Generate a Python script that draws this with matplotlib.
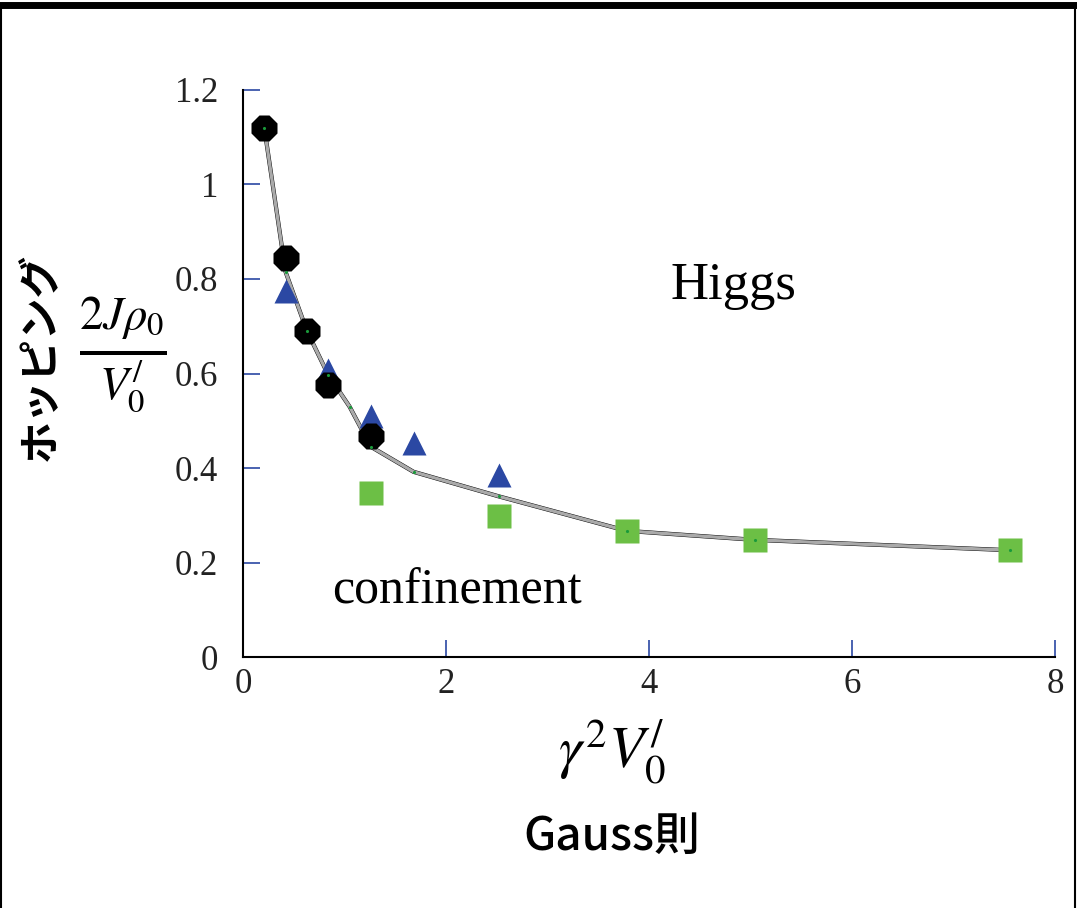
import matplotlib
matplotlib.use('Agg')
import matplotlib.pyplot as plt
import numpy as np

plt.rcParams['mathtext.fontset'] = 'stix'

# data
circ_x = [0.21, 0.42, 0.63, 0.84, 1.26]
circ_y = [1.12, 0.845, 0.69, 0.575, 0.468]
tri_x = [0.42, 0.84, 1.26, 1.68, 2.52]
tri_y = [0.775, 0.607, 0.51, 0.452, 0.385]
sq_x = [1.26, 2.52, 3.78, 5.04, 7.56]
sq_y = [0.347, 0.298, 0.267, 0.248, 0.226]
line_x = [0.21, 0.42, 0.63, 0.84, 1.05, 1.26, 1.68, 2.52, 3.78, 5.04, 7.56]
line_y = [1.12, 0.815, 0.69, 0.597, 0.53, 0.445, 0.392, 0.34, 0.267, 0.248, 0.226]
xticks = [0, 2, 4, 6, 8]
yticks = [0, 0.2, 0.4, 0.6, 0.8, 1, 1.2]
ytick_labels = ['0', '0.2', '0.4', '0.6', '0.8', '1', '1.2']

fig = plt.figure(figsize=(10.77, 9.08), dpi=100)
ax = fig.add_axes([0.2256, 0.2764, 0.754, 0.6245])

# frame around the whole picture
fig.add_artist(plt.Line2D([0, 1], [0.9945, 0.9945], color='black', lw=5, transform=fig.transFigure))
fig.add_artist(plt.Line2D([0.001, 0.001], [0, 0.995], color='black', lw=1.5, transform=fig.transFigure))
fig.add_artist(plt.Line2D([0.998, 0.998], [0, 0.995], color='black', lw=1.5, transform=fig.transFigure))

ax.plot(line_x, line_y, color='black', lw=3.0, zorder=2)
ax.plot(line_x, line_y, color='#aaaaaa', lw=2.4, zorder=2)

ax.plot(sq_x, sq_y, 's', color='#6cbf45', ms=17, mec='none', zorder=3)
ax.plot(tri_x, tri_y, '^', color='#2b48a3', ms=17, mec='none', zorder=3)
ax.plot(circ_x, circ_y, '8', color='black', ms=20, mec='none', zorder=4)
ax.plot(line_x, line_y, '.', color='#1a9a3a', ms=2.5, zorder=5)

ax.set_xlim(0, 8)
ax.set_ylim(0, 1.2)
for s in ['top', 'right']:
    ax.spines[s].set_visible(False)
ax.spines['left'].set_linewidth(1.5)
ax.spines['bottom'].set_linewidth(1.5)
ax.set_xticks(xticks)
ax.set_yticks(yticks)
ax.set_yticklabels(ytick_labels)
ax.tick_params(direction='in', length=12, width=1.2, colors='#2b48a3')
ax.tick_params(axis='y', pad=18)
ax.tick_params(axis='x', pad=8)
for lab in ax.get_xticklabels() + ax.get_yticklabels():
    lab.set_color('#222222')
    lab.set_fontfamily('Liberation Serif')
    lab.set_fontsize(25)
for i, t in enumerate(ax.xaxis.get_major_ticks()):
    if i % 2 == 0:
        t.tick1line.set_color('black')

ax.text(4.83, 0.785, 'Higgs', fontsize=38, family='Liberation Serif', ha='center', va='center')
ax.text(2.11, 0.14, 'confinement', fontsize=36, family='Liberation Serif', ha='center', va='center')

fig.text(0.114, 0.609, r"$\frac{2J\rho_0}{V_0^{/}}$", fontsize=48, ha='center', va='center')
fig.text(0.038, 0.607, 'ホッピング', fontsize=30, fontweight='bold', rotation=90,
         family=['Noto Sans CJK JP', 'DejaVu Sans'], ha='center', va='center')
fig.text(0.568, 0.172, r"$\gamma^2 V_0^{/}$", fontsize=42, ha='center', va='center')
fig.text(0.568, 0.079, 'Gauss則', fontsize=33, fontweight='medium',
         family=['Noto Sans CJK JP', 'DejaVu Sans'], ha='center', va='center')

fig.savefig('out.png', dpi=100)
